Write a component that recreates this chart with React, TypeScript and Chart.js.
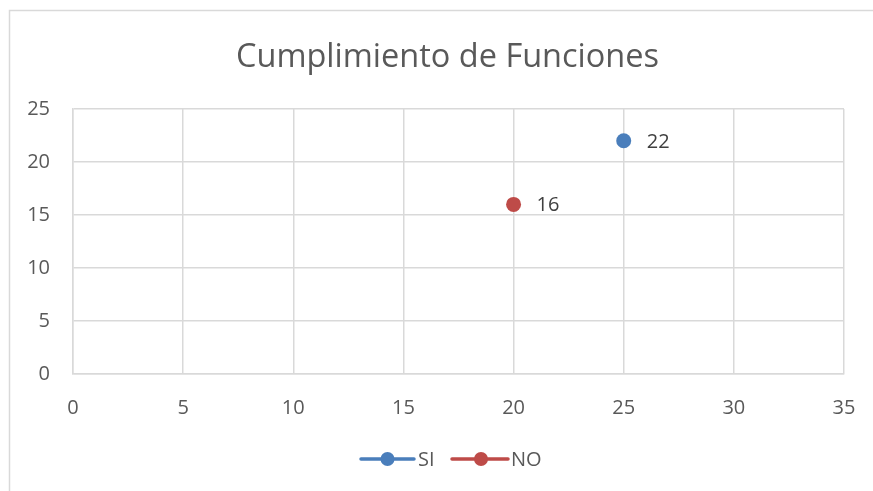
import React, { useEffect, useRef } from "react";
import { Chart, registerables } from "chart.js";

Chart.register(...registerables);

const chartTitle = "Cumplimiento de Funciones";
const seriesNames = ["SI", "NO"];
const seriesColors = ["#4A7EBB", "#BE4B48"];
const xValues = [25, 20];
const yValues = [22, 16];
const xMin = 0, xMax = 35, xStep = 5;
const yMin = 0, yMax = 25, yStep = 5;

const FONT = "'Open Sans', sans-serif";
const TEXT = "#595959";
const GRID = "#D9D9D9";

const decorPlugin = {
  id: "decor",
  beforeDraw(chart: any) {
    const ctx = chart.ctx;
    ctx.save();
    ctx.fillStyle = "#ffffff";
    ctx.fillRect(0, 0, chart.width, chart.height);
    ctx.strokeStyle = GRID;
    ctx.lineWidth = 1.5;
    ctx.strokeRect(9.5, 10.5, chart.width + 20, chart.height + 20);
    ctx.restore();
  },
  afterDraw(chart: any) {
    const ctx = chart.ctx;
    ctx.save();
    // title
    ctx.fillStyle = TEXT;
    ctx.font = `32.5px ${FONT}`;
    ctx.textAlign = "center";
    ctx.textBaseline = "alphabetic";
    ctx.fillText(chartTitle, 447.5, 67);
    // data labels
    ctx.font = `20px ${FONT}`;
    ctx.textAlign = "left";
    ctx.textBaseline = "middle";
    chart.data.datasets.forEach((ds: any, i: number) => {
      const meta = chart.getDatasetMeta(i);
      meta.data.forEach((pt: any, j: number) => {
        const v = ds.data[j].y;
        ctx.fillStyle = "#404040";
        ctx.fillText(String(v), pt.x + 23, pt.y + 1);
      });
    });
    // legend
    const ly = 459;
    const items = [
      { x0: 361, x1: 414, cx: 387.5, tx: 418 },
      { x0: 452, x1: 508, cx: 481, tx: 511 },
    ];
    chart.data.datasets.forEach((ds: any, i: number) => {
      const it = items[i];
      ctx.strokeStyle = ds.borderColor;
      ctx.lineWidth = 3.5;
      ctx.lineCap = "round";
      ctx.beginPath();
      ctx.moveTo(it.x0, ly);
      ctx.lineTo(it.x1, ly);
      ctx.stroke();
      ctx.fillStyle = ds.backgroundColor;
      ctx.beginPath();
      ctx.arc(it.cx, ly, 7, 0, Math.PI * 2);
      ctx.fill();
      ctx.fillStyle = TEXT;
      ctx.font = `20px ${FONT}`;
      ctx.textAlign = "left";
      ctx.textBaseline = "middle";
      ctx.fillText(ds.label, it.tx, ly + 1);
    });
    ctx.restore();
  },
};

export default function App() {
  const ref = useRef<HTMLCanvasElement | null>(null);
  useEffect(() => {
    if (!ref.current) return;
    const chart = new Chart(ref.current, {
      type: "scatter",
      data: {
        datasets: seriesNames.map((name, i) => ({
          label: name,
          data: [{ x: xValues[i], y: yValues[i] }],
          backgroundColor: seriesColors[i],
          borderColor: seriesColors[i],
          pointRadius: 7.5,
          pointHoverRadius: 7.5,
          borderWidth: 0,
        })),
      },
      options: {
        responsive: false,
        animation: false,
        layout: { padding: { top: 109, right: 29, left: 0, bottom: 0 } },
        plugins: {
          legend: { display: false },
          title: { display: false },
          tooltip: { enabled: false },
        },
        scales: {
          x: {
            type: "linear",
            min: xMin,
            max: xMax,
            ticks: { stepSize: xStep, color: TEXT, font: { family: FONT, size: 20 }, padding: 22 },
            grid: { color: GRID, lineWidth: 1.5, drawTicks: false },
            border: { color: GRID, width: 1.5 },
            afterFit: (s: any) => { s.height = 117; s.paddingLeft = 0; s.paddingRight = 0; },
          },
          y: {
            type: "linear",
            min: yMin,
            max: yMax,
            ticks: { stepSize: yStep, color: TEXT, font: { family: FONT, size: 20 }, padding: 23 },
            grid: { color: GRID, lineWidth: 1.5, drawTicks: false },
            border: { color: GRID, width: 1.5 },
            afterFit: (s: any) => { s.width = 73; s.paddingTop = 0; s.paddingBottom = 0; },
          },
        },
      },
      plugins: [decorPlugin],
    });
    return () => chart.destroy();
  }, []);
  return (
    <div style={{ position: "absolute", left: 0, top: 0, width: 873, height: 491 }}>
      <canvas ref={ref} width={873} height={491} style={{ display: "block" }} />
    </div>
  );
}
